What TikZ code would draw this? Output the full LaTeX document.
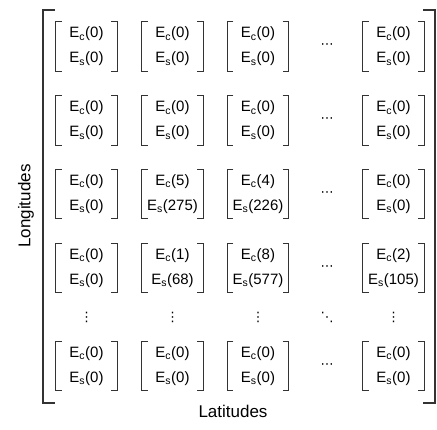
\documentclass[tikz,border=0pt]{standalone}
\usepackage{fontspec}
\setmainfont{Liberation Sans}
\newfontfamily\dotsfont{DejaVu Sans}
\begin{document}
\begin{tikzpicture}[x=1pt,y=1pt,
  cellbox/.style={minimum width=61pt,minimum height=49pt,inner sep=0pt,align=center,
    font=\fontsize{15}{25}\selectfont},
  brk/.style={draw=black!80,line width=1.1pt},
  dotnode/.style={inner sep=0pt,font=\dotsfont\fontsize{13}{15}\selectfont},
  axislabel/.style={inner sep=0pt,font=\fontsize{17}{20}\selectfont}]
\useasboundingbox (0,0) rectangle (437,430);
\newcommand{\cellEc}[2]{E\textsubscript{c}(#1)\\E\textsubscript{s}(#2)}
\foreach \r/\y in {1/383.5,2/309.5,3/236,4/162,6/64}{
  \foreach \c/\x in {1/86.5,2/172.5,3/258,5/393.5}{
    \coordinate (p\r\c) at (\x,\y);
  }
}
\node[cellbox] (c11) at (p11) {\cellEc{0}{0}};
\node[cellbox] (c12) at (p12) {\cellEc{0}{0}};
\node[cellbox] (c13) at (p13) {\cellEc{0}{0}};
\node[cellbox] (c15) at (p15) {\cellEc{0}{0}};
\node[cellbox] (c21) at (p21) {\cellEc{0}{0}};
\node[cellbox] (c22) at (p22) {\cellEc{0}{0}};
\node[cellbox] (c23) at (p23) {\cellEc{0}{0}};
\node[cellbox] (c25) at (p25) {\cellEc{0}{0}};
\node[cellbox] (c31) at (p31) {\cellEc{0}{0}};
\node[cellbox] (c32) at (p32) {\cellEc{5}{275}};
\node[cellbox] (c33) at (p33) {\cellEc{4}{226}};
\node[cellbox] (c35) at (p35) {\cellEc{0}{0}};
\node[cellbox] (c41) at (p41) {\cellEc{0}{0}};
\node[cellbox] (c42) at (p42) {\cellEc{1}{68}};
\node[cellbox] (c43) at (p43) {\cellEc{8}{577}};
\node[cellbox] (c45) at (p45) {\cellEc{2}{105}};
\node[cellbox] (c61) at (p61) {\cellEc{0}{0}};
\node[cellbox] (c62) at (p62) {\cellEc{0}{0}};
\node[cellbox] (c63) at (p63) {\cellEc{0}{0}};
\node[cellbox] (c65) at (p65) {\cellEc{0}{0}};
\foreach \n in {c11,c12,c13,c15,c21,c22,c23,c25,c31,c32,c33,c35,c41,c42,c43,c45,c61,c62,c63,c65}{
  \draw[brk] ([xshift=6pt]\n.north west) -- (\n.north west) -- (\n.south west) -- ([xshift=6pt]\n.south west);
  \draw[brk] ([xshift=-6pt]\n.north east) -- (\n.north east) -- (\n.south east) -- ([xshift=-6pt]\n.south east);
}
\foreach \r/\y in {1/383.5,2/309.5,3/236,4/162,6/64}{
  \node[dotnode] (h\r) at (327,\y) {⋯};
}
\foreach \c/\x in {1/86.5,2/172.5,3/258,5/393.5}{
  \node[dotnode] (v\c) at (\x,113) {⋮};
}
\node[dotnode] (dd) at (327,113) {⋱};
\draw[brk] (55,420) -- (43,420) -- (43,27) -- (55,27);
\draw[brk] (423,420) -- (435,420) -- (435,27) -- (423,27);
\node[axislabel,rotate=90] (lon) at (26,224) {Longitudes};
\node[axislabel] (lat) at (233,19) {Latitudes};
\end{tikzpicture}
\end{document}
